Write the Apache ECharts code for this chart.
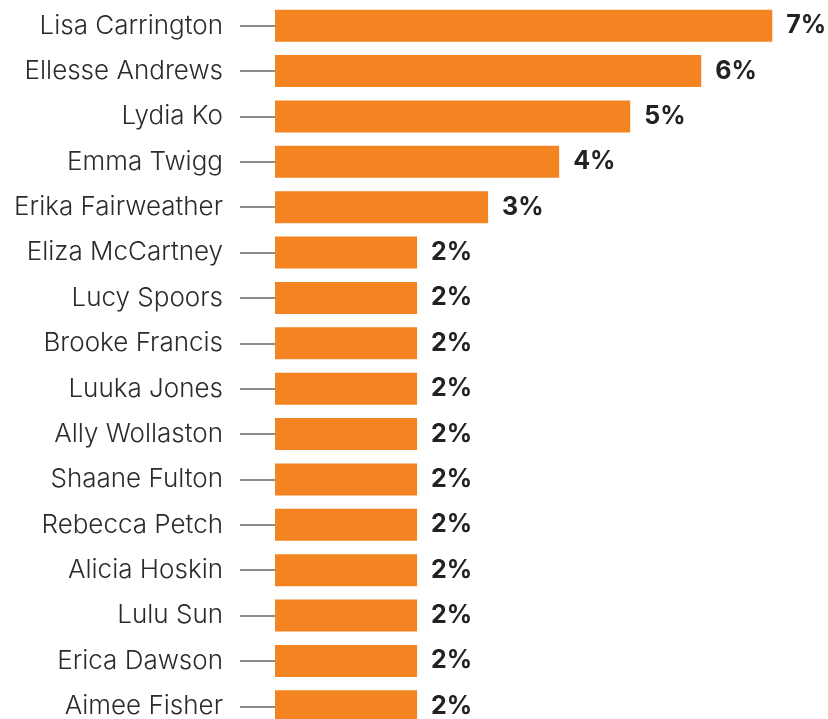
<!DOCTYPE html>
<html>
<head>
<meta charset="utf-8">
<script src="https://cdn.jsdelivr.net/npm/echarts@6/dist/echarts.min.js"></script>
<style>
  html, body { margin: 0; padding: 0; background: #ffffff; }
  #chart { width: 828px; height: 719px; }
</style>
</head>
<body>
<div id="chart"></div>
<script>
// share of votes, top to bottom
var names = [
  "Lisa Carrington", "Ellesse Andrews", "Lydia Ko", "Emma Twigg",
  "Erika Fairweather", "Eliza McCartney", "Lucy Spoors", "Brooke Francis",
  "Luuka Jones", "Ally Wollaston", "Shaane Fulton", "Rebecca Petch",
  "Alicia Hoskin", "Lulu Sun", "Erica Dawson", "Aimee Fisher"
];
var shares = [7, 6, 5, 4, 3, 2, 2, 2, 2, 2, 2, 2, 2, 2, 2, 2];

var chart = echarts.init(document.getElementById("chart"));

var option = {
  animation: false,
  grid: { left: 275, top: 3, width: 547, height: 726, outerBoundsMode: "none", containLabel: false },
  xAxis: {
    type: "value",
    min: 0,
    max: 7.7,
    show: false
  },
  yAxis: {
    type: "category",
    data: names,
    inverse: true,
    axisLine: { show: false },
    axisTick: {
      show: true,
      alignWithLabel: true,
      length: 35,
      lineStyle: { color: "#666", width: 1.5 }
    },
    axisLabel: {
      margin: 52,
      fontFamily: "Inter",
      fontWeight: 300,
      fontSize: 26,
      color: "#2b2b2b"
    },
    splitLine: { show: false }
  },
  series: [
    {
      type: "bar",
      data: shares,
      barWidth: 32,
      itemStyle: { color: "#F48322" },
      label: {
        show: true,
        position: "right",
        distance: 14,
        formatter: "{c}%",
        fontFamily: "Inter",
        fontWeight: "bold",
        fontSize: 25,
        color: "#222"
      }
    }
  ]
};

chart.setOption(option);
</script>
</body>
</html>
